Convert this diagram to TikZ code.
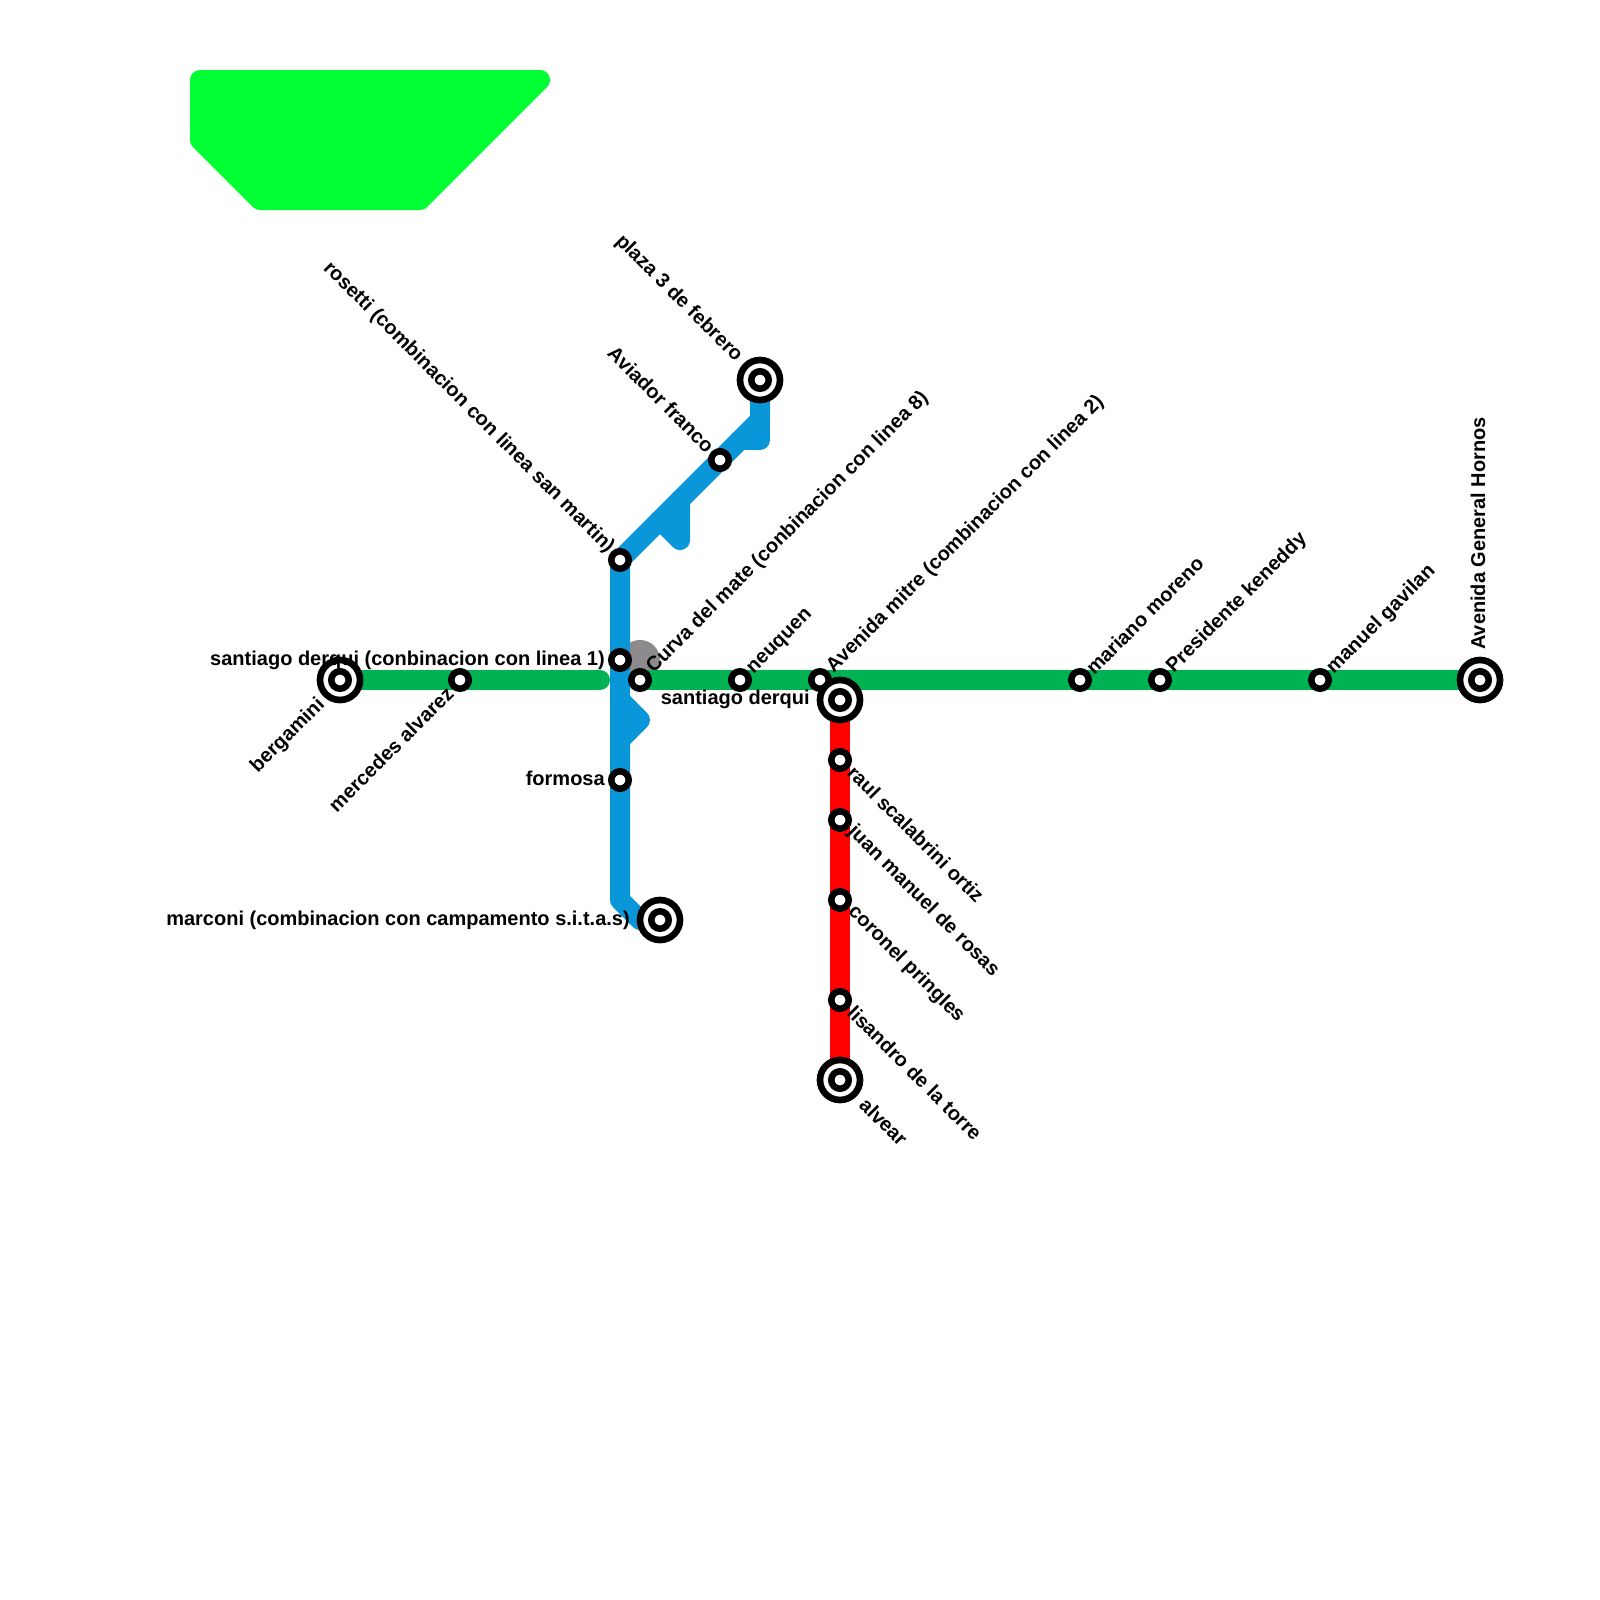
\documentclass[tikz,border=0pt]{standalone}
\usepackage{fontspec}
\setmainfont{Liberation Sans}[BoldFont={Liberation Sans Bold}]
\definecolor{lblue}{HTML}{0A97D9}
\definecolor{lgreen}{HTML}{00B251}
\definecolor{lred}{HTML}{FF0000}
\definecolor{park}{HTML}{00FF33}
\definecolor{grey}{HTML}{8C8A8C}
\tikzset{
  x=0.75pt,y=-0.75pt,
  route/.style={line width=15pt,line cap=round,line join=round},
  stn/.style={circle,draw=black,fill=white,line width=4.9pt,minimum size=13.1pt,inner sep=0pt,outer sep=0pt},
  term/.style={circle,draw=black,fill=white,line width=5pt,minimum size=30pt,inner sep=0pt,outer sep=0pt},
  lab/.style={font=\fontsize{15pt}{17pt}\selectfont\bfseries,inner sep=0pt,text=black},
  up/.style={lab,rotate=45,anchor=west},
  upend/.style={lab,rotate=45,anchor=east},
  dn/.style={lab,rotate=-45,anchor=west},
  dnend/.style={lab,rotate=-45,anchor=east},
  lft/.style={lab,anchor=east},
}
\newcommand{\termin}[2]{\node[term] (#1) at #2 {}; \node[stn] (#1i) at #2 {};}
\begin{document}
\begin{tikzpicture}
\useasboundingbox (0,0) rectangle (1600,1600);
\fill[white] (0,0) rectangle (1600,1600);
% park
\filldraw[park,line width=15pt,line join=round] (200,80) -- (540,80) -- (420,200) -- (260,200) -- (200,140) -- cycle;
% stops positions
\coordinate (bergc) at (340,680);
\coordinate (merc) at (460,680);
\coordinate (gend) at (600,680);
\coordinate (curc) at (640,680);
\coordinate (neuc) at (740,680);
\coordinate (avmc) at (820,680);
\coordinate (marc) at (1080,680);
\coordinate (prec) at (1160,680);
\coordinate (manc) at (1320,680);
\coordinate (horc) at (1480,680);
\coordinate (rosc) at (620,560);
\coordinate (sdc) at (620,660);
\coordinate (forc) at (620,780);
\coordinate (bend) at (620,900);
\coordinate (bend2) at (640,920);
\coordinate (mcoc) at (660,920);
\coordinate (avic) at (720,460);
\coordinate (b1) at (760,420);
\coordinate (plac) at (760,380);
\coordinate (s1a) at (760,440);
\coordinate (s1b) at (740,440);
\coordinate (s2a) at (680,500);
\coordinate (s2b) at (680,540);
\coordinate (s2c) at (660,520);
\coordinate (s3a) at (620,700);
\coordinate (s3b) at (640,720);
\coordinate (s3c) at (620,740);
\coordinate (derc) at (840,700);
\coordinate (rauc) at (840,760);
\coordinate (juac) at (840,820);
\coordinate (corc) at (840,900);
\coordinate (lisc) at (840,1000);
\coordinate (alvc) at (840,1080);
% interchange
\fill[grey] (640,660) circle[radius=15pt];
% lines
\draw[route,lgreen] (bergc) -- (gend);
\draw[route,lgreen] (curc) -- (horc);
\draw[route,lblue] (mcoc) -- (bend2) -- (bend) -- (sdc) -- (rosc) -- (b1) -- (plac);
\draw[route,lblue] (plac) -- (s1a) -- (s1b);
\draw[route,lblue] (s2a) -- (s2b) -- (s2c);
\draw[route,lblue] (s3a) -- (s3b) -- (s3c);
\draw[route,lred] (derc) -- (alvc);
% stations
\termin{berg}{(bergc)}
\node[stn] (mer) at (merc) {};
\node[stn] (cur) at (curc) {};
\node[stn] (neu) at (neuc) {};
\node[stn] (avm) at (avmc) {};
\node[stn] (mar) at (marc) {};
\node[stn] (pre) at (prec) {};
\node[stn] (man) at (manc) {};
\termin{hor}{(horc)}
\node[stn] (ros) at (rosc) {};
\node[stn] (sd) at (sdc) {};
\node[stn] (for) at (forc) {};
\termin{mco}{(mcoc)}
\node[stn] (avi) at (avic) {};
\termin{pla}{(plac)}
\termin{der}{(derc)}
\node[stn] (rau) at (rauc) {};
\node[stn] (jua) at (juac) {};
\node[stn] (cor) at (corc) {};
\node[stn] (lis) at (lisc) {};
\termin{alv}{(alvc)}
% labels
\node[lft] (lsd) at (605,660) {santiago derqui (conbinacion con linea 1)};
\node[lft] (lfor) at (605,778) {formosa};
\node[lft] (lmco) at (630,920) {marconi (combinacion con campamento s.i.t.a.s)};
\node[lft] (lder) at (810,699) {santiago derqui};
\node[dnend] (lros) at (611,550) {rosetti (combinacion con linea san martin)};
\node[dnend] (lpla) at (739,359) {plaza 3 de febrero};
\node[dnend] (lavi) at (711,449) {Aviador franco};
\node[upend] (lberg) at (322,702) {bergamini};
\node[upend] (lmer) at (450,690) {mercedes alvarez};
\node[up] (lcur) at (650,670) {Curva del mate (conbinacion con linea 8)};
\node[up] (lneu) at (751,672) {neuquen};
\node[up] (lavm) at (830,670) {Avenida mitre (combinacion con linea 2)};
\node[up] (lmar) at (1089,671) {mariano moreno};
\node[up] (lpre) at (1170,670) {Presidente keneddy};
\node[up] (lman) at (1330,671) {manuel gavilan};
\node[lab,rotate=90,anchor=west] (lhor) at (1478,650) {Avenida General Hornos};
\node[dn] (lrau) at (851,769) {raul scalabrini ortiz};
\node[dn] (ljua) at (851,829) {juan manuel de rosas};
\node[dn] (lcor) at (851,909) {coronel pringles};
\node[dn] (llis) at (851,1009) {lisandro de la torre};
\node[dn] (lalv) at (863,1101) {alvear};
\end{tikzpicture}
\end{document}
